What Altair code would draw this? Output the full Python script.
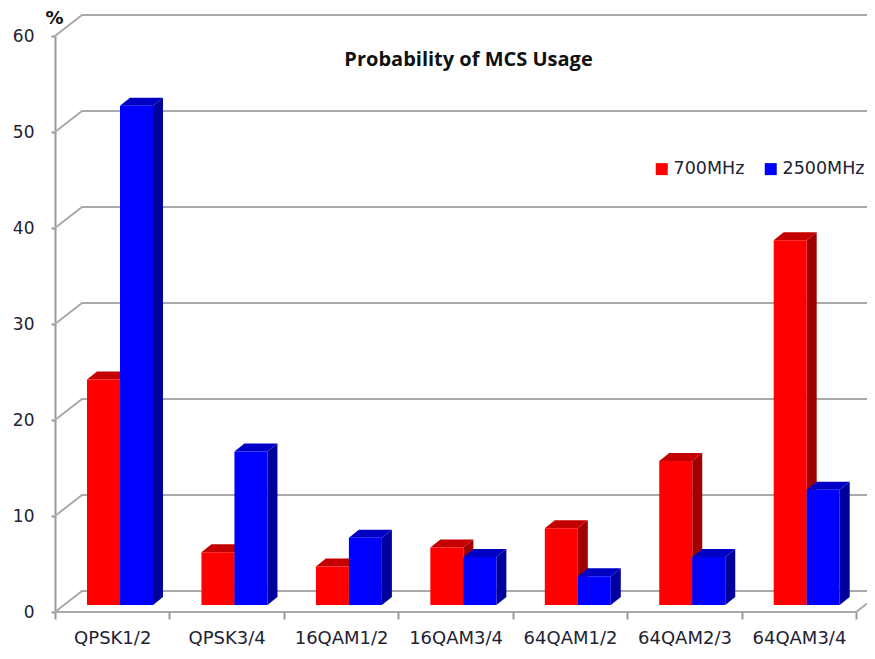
import altair as alt
import pandas as pd

categories = ["QPSK1/2", "QPSK3/4", "16QAM1/2", "16QAM3/4", "64QAM1/2", "64QAM2/3", "64QAM3/4"]
mhz700 = [23.5, 5.5, 4, 6, 8, 15, 38]
mhz2500 = [52, 16, 7, 5, 3, 5, 12]
y_ticks = [0, 10, 20, 30, 40, 50, 60]
series = ["700MHz", "2500MHz"]
front_colors = ["#ff0000", "#0000ff"]
side_colors = ["#a00000", "#00009c"]
top_colors = ["#c40000", "#0000c4"]

PX_X = 114.45      # pixels per category
PX_Y = 9.6         # pixels per percent
W, H = 812, 576
x_max = W / PX_X
wall_dx, wall_dz = 27 / PX_X, 21 / PX_Y
bar_w = 33 / PX_X
bar_start = 32 / PX_X
bar_dx, bar_dz = 10 / PX_X, 8 / PX_Y
base = 7 / PX_Y

X = alt.X("x:Q", scale=alt.Scale(domain=[0, x_max], nice=False, zero=False),
          axis=alt.Axis(values=list(range(len(categories) + 1)), title=None, domain=False, grid=False,
                        tickColor="#999999", tickWidth=2, tickSize=7,
                        labelExpr="[" + ",".join(f"'{c}'" for c in categories) + "][datum.value] || ''",
                        labelOffset=PX_X / 2, labelPadding=10, labelFontSize=18, labelFont="DejaVu Sans",
                        labelColor="#222233", labelOverlap=False, labelBound=False, labelFlush=False))
Y = alt.Y("y:Q", scale=alt.Scale(domain=[0, 60], nice=False, zero=False),
          axis=alt.Axis(values=y_ticks, grid=False, domainColor="#999999", domainWidth=2, tickColor="#999999",
                        tickWidth=2, tickSize=4, labelPadding=17, labelFontSize=17, labelFont="DejaVu Sans",
                        labelColor="#222233", title="%", titleAngle=0, titleFontSize=18, titleFontWeight="bold",
                        titleFont="DejaVu Sans", titleColor="#111111", titleX=-1, titleY=-18, titleAlign="center",
                        titleBaseline="middle"))
X_plain = alt.X("x:Q")
Y_plain = alt.Y("y:Q")
Y2 = alt.Y2("y2:Q")

grid_rows = []
for t in y_ticks:
    for x, y in [(0, t), (wall_dx, t + wall_dz), (x_max, t + wall_dz)]:
        grid_rows.append({"x": x, "y": y, "g": f"t{t}"})
n = len(categories)
for x, y in [(0, 0), (n, 0), (x_max, (x_max - n) / wall_dx * wall_dz)]:
    grid_rows.append({"x": x, "y": y, "g": "floor"})
grid = alt.Chart(pd.DataFrame(grid_rows)).mark_line(color="#aaaaaa", strokeWidth=2).encode(
    x=X, y=Y, detail="g:N")

layers = [grid]
for si, (name, vals) in enumerate(zip(series, [mhz700, mhz2500])):
    front, side, top = [], [], []
    for i, v in enumerate(vals):
        x0 = i + bar_start + si * bar_w
        x1 = x0 + bar_w
        t = base + v
        front.append({"x": x0, "x2": x1, "y": base, "y2": t, "series": name})
        side += [{"x": x1, "y": base, "y2": t, "g": i},
                 {"x": x1 + bar_dx, "y": base + bar_dz, "y2": t + bar_dz, "g": i}]
        top += [{"x": x0, "y": t, "y2": t, "g": i},
                {"x": x0 + bar_dx, "y": t, "y2": t + bar_dz, "g": i},
                {"x": x1, "y": t, "y2": t + bar_dz, "g": i},
                {"x": x1 + bar_dx, "y": t + bar_dz, "y2": t + bar_dz, "g": i}]
    layers.append(alt.Chart(pd.DataFrame(side)).mark_area(color=side_colors[si]).encode(
        x=X_plain, y=Y_plain, y2=Y2, detail="g:N"))
    layers.append(alt.Chart(pd.DataFrame(top)).mark_area(color=top_colors[si]).encode(
        x=X_plain, y=Y_plain, y2=Y2, detail="g:N"))
    layers.append(alt.Chart(pd.DataFrame(front)).mark_rect().encode(
        x=X_plain, x2="x2:Q", y=Y_plain, y2=Y2,
        color=alt.Color("series:N",
                        scale=alt.Scale(domain=series, range=front_colors),
                        legend=alt.Legend(title=None, orient="none", legendX=598, legendY=124, direction="horizontal",
                                          columns=2, symbolType="square", symbolSize=144, symbolStrokeWidth=0,
                                          labelFontSize=17.5, labelFont="DejaVu Sans", labelColor="#222233",
                                          labelOffset=3, columnPadding=17))))

chart = alt.layer(*layers).properties(
    width=W, height=H, background="white",
    padding={"left": 47, "top": 28, "right": 0, "bottom": 39},
    autosize=alt.AutoSizeParams(type="none"),
    title=alt.TitleParams("Probability of MCS Usage", anchor="start", dx=332, offset=-61, fontSize=20,
                          font="Open Sans", fontWeight="bold", color="#111111"),
).configure_view(stroke=None)

chart.save("out.html", embed_options={"renderer": "svg", "actions": False})
